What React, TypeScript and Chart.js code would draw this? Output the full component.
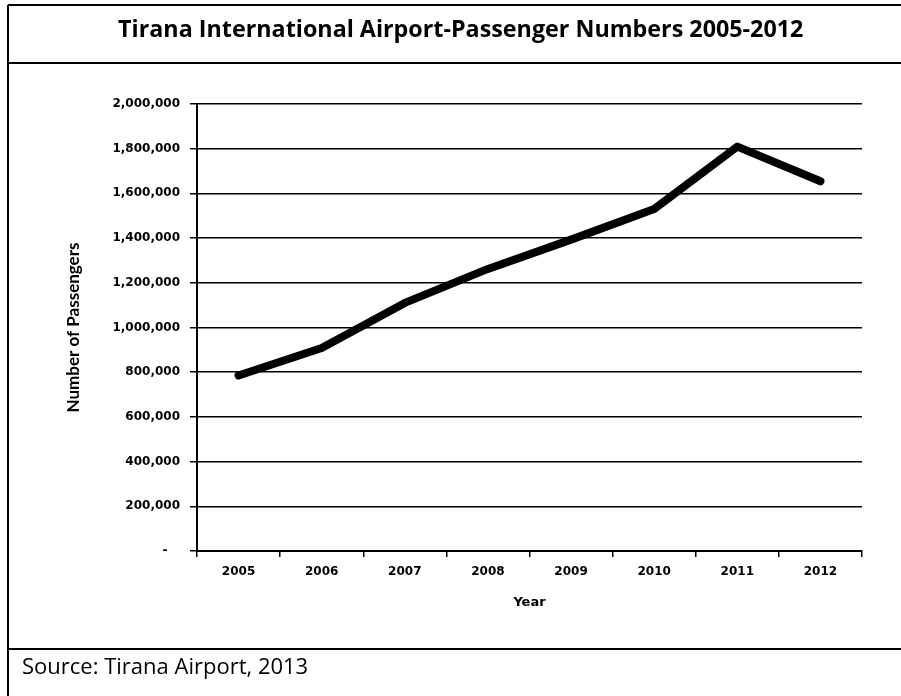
import React, { useEffect, useRef } from "react";
import { Chart, registerables } from "chart.js";

Chart.register(...registerables);

const years = ["2005", "2006", "2007", "2008", "2009", "2010", "2011", "2012"];
const passengers = [785000, 908000, 1110000, 1262000, 1393000, 1530000, 1809000, 1654000];
const yTickValues = [0, 200000, 400000, 600000, 800000, 1000000, 1200000, 1400000, 1600000, 1800000, 2000000];
const titleText = "Tirana International Airport-Passenger Numbers 2005-2012";
const sourceText = "Source: Tirana Airport, 2013";
const yTitle = "Number of Passengers";
const xTitle = "Year";

const framePlugin = {
  id: "frame",
  afterDraw(chart: any) {
    const ctx = chart.ctx;
    ctx.save();
    ctx.strokeStyle = "#000";
    ctx.lineWidth = 2;
    ctx.beginPath();
    ctx.moveTo(8, 5);
    ctx.lineTo(901, 5);
    ctx.moveTo(8, 5);
    ctx.lineTo(8, 696);
    ctx.moveTo(8, 63);
    ctx.lineTo(901, 63);
    ctx.moveTo(8, 649);
    ctx.lineTo(901, 649);
    ctx.stroke();
    ctx.fillStyle = "#000";
    ctx.font = "22px 'Open Sans'";
    ctx.textAlign = "left";
    ctx.textBaseline = "alphabetic";
    ctx.fillText(sourceText, 22, 674);
    ctx.restore();
  },
};

export default function App() {
  const ref = useRef<HTMLCanvasElement>(null);
  useEffect(() => {
    if (!ref.current) return;
    const chart = new Chart(ref.current, {
      type: "line",
      data: {
        labels: years,
        datasets: [
          {
            data: passengers,
            borderColor: "#000",
            borderWidth: 8,
            pointRadius: 0,
            tension: 0,
            borderJoinStyle: "round",
            borderCapStyle: "round",
            fill: false,
          },
        ],
      },
      options: {
        animation: false,
        responsive: false,
        devicePixelRatio: 1,
        layout: { padding: { left: 59.5, right: 39, top: 0, bottom: 0 } },
        plugins: {
          legend: { display: false },
          tooltip: { enabled: false },
          title: {
            display: true,
            text: titleText,
            color: "#000",
            font: { family: "'Open Sans'", size: 23.3, weight: "bold", lineHeight: 1.2 },
            padding: { top: 16, bottom: 60 },
          },
        },
        scales: {
          x: {
            type: "category",
            offset: true,
            afterFit: (s: any) => {
              s.height = 145;
            },
            grid: {
              offset: true,
              drawOnChartArea: false,
              drawTicks: true,
              tickLength: 6,
              color: "#000",
              lineWidth: 1.5,
            },
            border: { display: true, color: "#000", width: 2 },
            ticks: {
              color: "#000",
              padding: 8,
              font: { family: "DejaVu Sans", size: 12, weight: "bold" },
            },
            title: {
              display: true,
              text: xTitle,
              color: "#000",
              font: { family: "DejaVu Sans", size: 13, weight: "bold", lineHeight: 1.2 },
              padding: { top: 4, bottom: 86 },
            },
          },
          y: {
            min: 0,
            max: 2000000,
            afterFit: (s: any) => {
              s.width = 137.5;
            },
            afterBuildTicks: (s: any) => {
              s.ticks = yTickValues.map((v) => ({ value: v }));
            },
            grid: {
              color: "#000",
              lineWidth: 1.5,
              drawTicks: true,
              tickLength: 7,
            },
            border: { display: true, color: "#000", width: 2 },
            ticks: {
              color: "#000",
              padding: 10,
              font: { family: "DejaVu Sans", size: 12, weight: "bold" },
              callback: (v: any) => (Number(v) === 0 ? "-   " : Number(v).toLocaleString("en-US")),
            },
            title: {
              display: true,
              text: yTitle,
              color: "#000",
              font: { family: "Lato", size: 17, weight: "bold", lineHeight: 1.2 },
              padding: { top: 3.4, bottom: 4 },
            },
          },
        },
      },
      plugins: [framePlugin],
    });
    return () => chart.destroy();
  }, []);
  return (
    <div style={{ position: "absolute", left: 0, top: 0, width: 901, height: 696, background: "#fff" }}>
      <canvas ref={ref} width={901} height={696} style={{ width: 901, height: 696, display: "block" }} />
    </div>
  );
}
